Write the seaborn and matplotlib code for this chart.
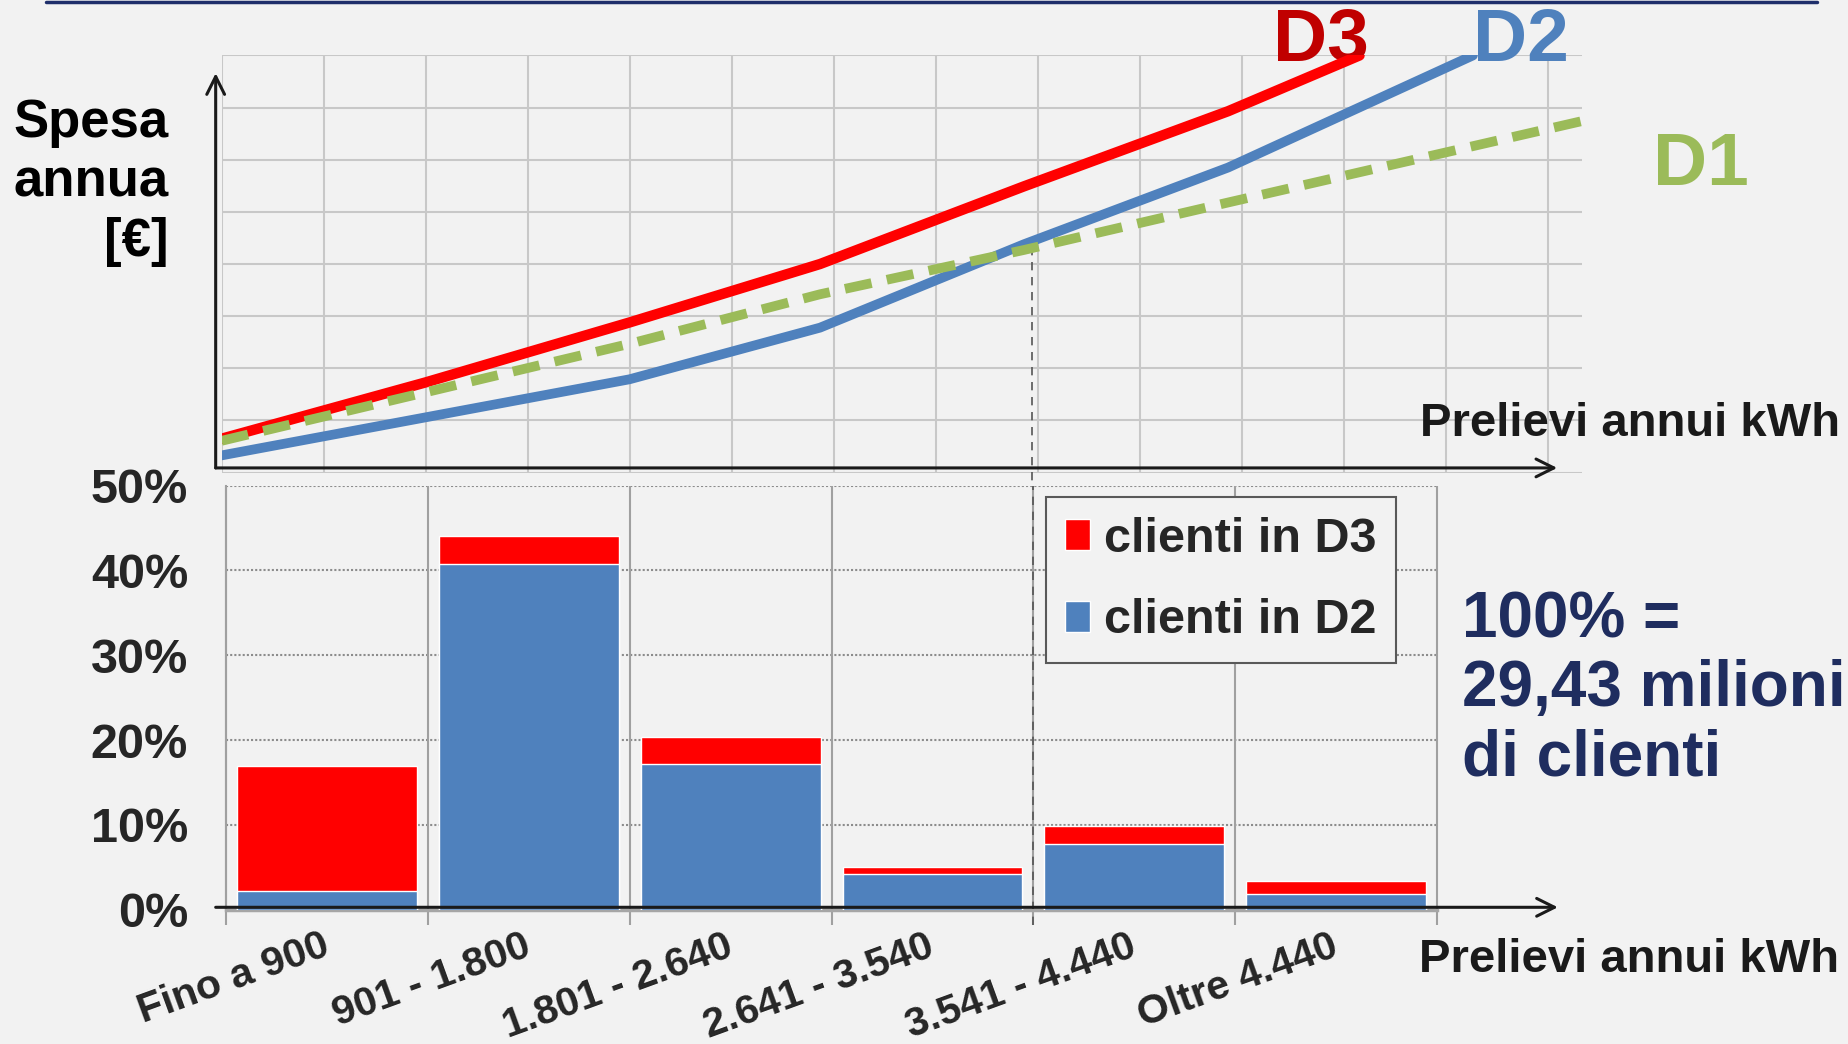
import numpy as np
import pandas as pd
import matplotlib.pyplot as plt
import seaborn as sns
from matplotlib.patches import Patch

# -------------------- Dati --------------------
# curve di spesa annua (unita' di griglia) in funzione dei prelievi annui kWh
kwh_d3 = [0, 900, 1800, 2640, 3540, 4440, 5020]
spesa_d3 = [0.65, 1.73, 2.88, 4.00, 5.49, 6.93, 8.00]
kwh_d2 = [0, 900, 1800, 2640, 3540, 4440, 5520]
spesa_d2 = [0.33, 1.06, 1.79, 2.78, 4.38, 5.85, 8.00]
kwh_d1 = [0, 900, 1800, 2640, 3540, 4440, 6000]
spesa_d1 = [0.61, 1.54, 2.47, 3.42, 4.27, 5.18, 6.74]
kwh_incrocio = 3575
spesa_incrocio = 4.32

# distribuzione clienti per fascia di consumo (%)
fasce = ['Fino a 900', '901 - 1.800', '1.801 - 2.640', '2.641 - 3.540',
         '3.541 - 4.440', 'Oltre 4.440']
clienti_d2 = [2.2, 40.8, 17.2, 4.2, 7.75, 1.85]
clienti_d3 = [14.7, 3.3, 3.2, 0.8, 2.1, 1.55]
yticks_pct = [0, 10, 20, 30, 40, 50]

ROSSO = '#FF0000'
BLU = '#4F81BD'
VERDE = '#9BBB59'
NAVY = '#1F2D5F'
SFONDO = '#F2F2F2'

sns.set_style('white')
plt.rcParams['font.family'] = ['Liberation Sans', 'DejaVu Sans']
plt.rcParams['font.weight'] = 'bold'

fig = plt.figure(figsize=(18.48, 10.44), dpi=100, facecolor=SFONDO)
ax_top = fig.add_axes([0.1199, 0.5473, 0.736, 0.3996])
ax_bar = fig.add_axes([0.1225, 0.1285, 0.655, 0.4064])

# -------------------- Grafico spesa --------------------
ax_top.set_facecolor(SFONDO)
sns.lineplot(x=kwh_d2, y=spesa_d2, ax=ax_top, color=BLU, lw=7, zorder=3)
sns.lineplot(x=kwh_d3, y=spesa_d3, ax=ax_top, color=ROSSO, lw=7.5, zorder=4)
sns.lineplot(x=kwh_d1, y=spesa_d1, ax=ax_top, color=VERDE, lw=7,
             linestyle=(0, (2.8, 1.6)), zorder=5)
ax_top.set_xlim(0, 6000)
ax_top.set_ylim(0, 8)
ax_top.set_xticks(np.arange(0, 6000, 450))
ax_top.set_yticks(np.arange(0, 9, 1))
ax_top.set_xticklabels([])
ax_top.set_yticklabels([])
ax_top.tick_params(length=0)
ax_top.grid(True, color='#C8C8C8', lw=1.5)
ax_top.set_xlabel('')
ax_top.set_ylabel('')
for s in ax_top.spines.values():
    s.set_visible(False)

freccia = dict(arrowstyle='->', color='#1A1A1A', lw=2.2, mutation_scale=32,
               shrinkA=0, shrinkB=0)
ax_top.annotate('', xy=(-26, 7.66), xytext=(-26, 0.09), arrowprops=freccia,
                annotation_clip=False)
ax_top.annotate('', xy=(5892, 0.09), xytext=(-26, 0.09), arrowprops=freccia,
                annotation_clip=False)
ax_top.plot([kwh_incrocio, kwh_incrocio], [spesa_incrocio, -0.3], color='#555555',
            lw=1.2, linestyle=(0, (5, 4)), clip_on=False, zorder=2)

ax_top.text(0.808, 1.034, 'D3', transform=ax_top.transAxes, ha='center', va='center',
            fontsize=54, color='#C00000')
ax_top.text(0.955, 1.034, 'D2', transform=ax_top.transAxes, ha='center', va='center',
            fontsize=54, color=BLU)
ax_top.text(1.0875, 0.737, 'D1', transform=ax_top.transAxes, ha='center', va='center',
            fontsize=54, color=VERDE)
ax_top.text(1.19, 0.116, 'Prelievi annui kWh', transform=ax_top.transAxes,
            ha='right', va='center', fontsize=34, color='#1A1A1A')

fig.text(0.0912, 0.825, 'Spesa\nannua\n[€]', ha='right', va='center', ma='right',
         fontsize=38, linespacing=1.25, color='black')

# -------------------- Distribuzione clienti --------------------
ax_bar.set_facecolor(SFONDO)
df = pd.DataFrame({'fascia': fasce, 'd2': clienti_d2,
                   'totale': np.add(clienti_d2, clienti_d3)})
sns.barplot(data=df, x='fascia', y='totale', color=ROSSO, width=0.89,
            saturation=1, ax=ax_bar, zorder=3)
sns.barplot(data=df, x='fascia', y='d2', color=BLU, width=0.89,
            saturation=1, ax=ax_bar, zorder=3)
ax_bar.set_xlim(-0.5, 5.5)
ax_bar.set_ylim(0, 50)
ax_bar.set_xlabel('')
ax_bar.set_ylabel('')
ax_bar.set_yticks(yticks_pct)
ax_bar.set_yticklabels([f'{v}%' for v in yticks_pct], fontsize=35)
ax_bar.set_xticks(range(len(fasce)))
ax_bar.set_xticklabels(fasce, fontsize=29.5, rotation=20, ha='right',
                       va='center', rotation_mode='anchor')
ax_bar.tick_params(axis='x', length=0, pad=25)
ax_bar.tick_params(axis='y', length=7.6, width=1.5, color='#8C8C8C', pad=20)
ax_bar.yaxis.grid(True, linestyle=(0, (1, 1)), color='#8C8C8C', lw=1.5)
ax_bar.set_axisbelow(True)
for s in ['top', 'right']:
    ax_bar.spines[s].set_visible(False)
ax_bar.spines['left'].set_color('#A0A0A0')
ax_bar.spines['left'].set_linewidth(1.5)
ax_bar.spines['bottom'].set_color('#A6A6A6')
ax_bar.spines['bottom'].set_linewidth(2.5)

confini = np.arange(-0.5, len(fasce) + 0.5, 1)
ax_bar.vlines(confini, -1.8, 50, color='#A0A0A0', lw=1.5, clip_on=False, zorder=1)
ax_bar.vlines(3.5, -1.8, 50, color='#555555', lw=1.2, linestyles=(0, (5, 4)),
              clip_on=False, zorder=2)
ax_bar.annotate('', xy=(6.1, 0.3), xytext=(-0.553, 0.3), arrowprops=freccia,
                annotation_clip=False)

handles = [Patch(facecolor=ROSSO, label='clienti in D3'),
           Patch(facecolor=BLU, label='clienti in D2')]
leg = ax_bar.legend(handles=handles, loc='upper left', bbox_to_anchor=(0.677, 0.972),
                    borderaxespad=0, fontsize=35, handlelength=0.5, handleheight=0.6,
                    handletextpad=0.3, labelspacing=0.75, borderpad=0.4, fancybox=False,
                    framealpha=1, facecolor=SFONDO, edgecolor='#595959')
leg.get_frame().set_linewidth(1.5)

ax_bar.text(1.332, -0.119, 'Prelievi annui kWh', transform=ax_bar.transAxes,
            ha='right', va='center', fontsize=34, color='#1A1A1A')
fig.text(0.791, 0.3396, '100% =\n29,43 milioni\ndi clienti', ha='left', va='center',
         fontsize=46, color=NAVY, linespacing=1.2)

fig.add_artist(plt.Line2D([0.025, 0.983], [0.9985, 0.9985], color='#1F2F6B', lw=2.5,
                          transform=fig.transFigure))

plt.savefig('out.png', dpi=100, facecolor=SFONDO)
